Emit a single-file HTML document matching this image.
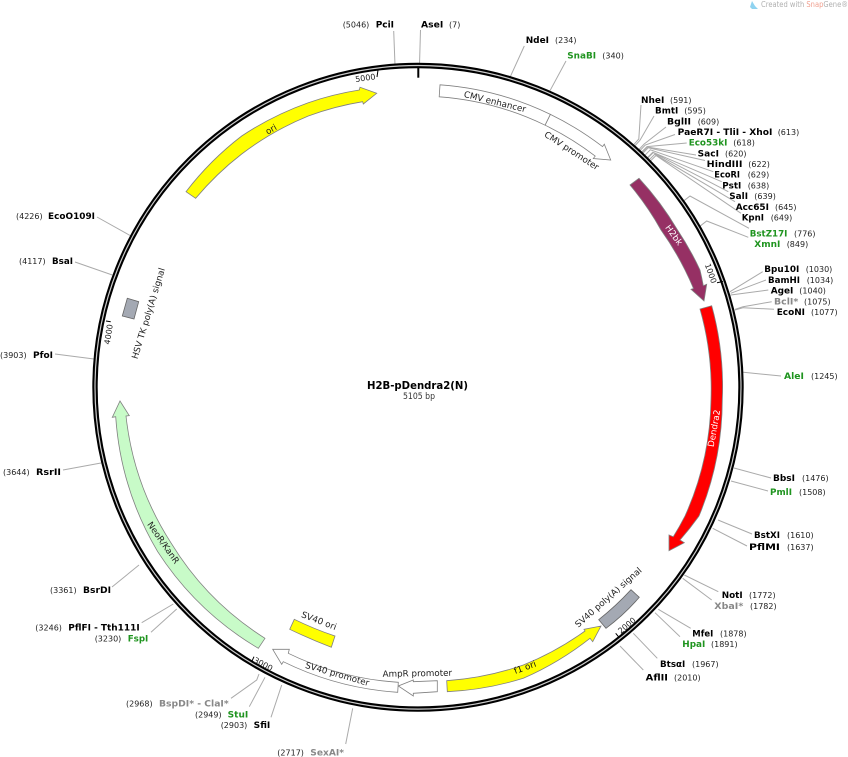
<!DOCTYPE html>
<html><head><meta charset="utf-8"><title>H2B-pDendra2(N)</title>
<style>
html,body{margin:0;padding:0;background:#fff}
svg{display:block;font-family:"DejaVu Sans","Liberation Sans",sans-serif}
.n{font-weight:700;font-size:9px;fill:#000}
.g{font-weight:700;font-size:9px;fill:#1f941f}
.h{font-weight:700;font-size:9px;fill:#888}
.c{font-size:8px;fill:#222}
.l{font-size:8.75px;fill:#222;text-anchor:middle}
.t{font-size:8px;fill:#222;text-anchor:middle}
.ln{fill:none;stroke:#aaa;stroke-width:1}
</style></head><body>
<svg width="848" height="757" viewBox="0 0 848 757" xmlns="http://www.w3.org/2000/svg">
<path d="M752 1l3 5 3 3h-6l-2-2z" fill="#8fd3f0"/>
<text x="761" y="7" font-size="7.5" fill="#b0b0b0" textLength="87" lengthAdjust="spacingAndGlyphs">Created with <tspan fill="#f0a090">Snap</tspan>Gene®</text>

<g class="ln">
<path d="M420.5 30L419.5 65M393.7 31L395 65M524.3 46L510.3 76.7M566 61L550 90.7"/>
<path d="M641 105L638.8 139L632.8 145.7M654 116L640 140.2L634 146.8M666 127L644.2 144L638 150.5M675 134.5L645.3 145L639.1 151.5M686.7 143L647 146.6L640.7 153M696 155L647.4 147L641.2 153.5M705 160.5L648.2 147.8L642 154.2M713.3 171.7L650.3 149.8L644 156.2M721.7 181.7L652.8 152.2L646.4 158.6M728.3 191.7L653.2 152.6L646.8 159M735 201.7L654.8 154.3L648.4 160.6M741 213.3L656 155.5L649.6 161.8"/>
<path d="M749 228.3L690 196L684 200.7M748.3 237.3L706.7 221L699.3 226.7"/>
<path d="M762.7 271.7L730 291.7M766 280L730.7 293.3M768.3 290L730.7 295M771.7 301.7L743 306.7L735 309.3M774 309.3L743.3 307.7L735 310"/>
<path d="M781 376L741 372M771 478L734 468M768 491L731 481M752 534L718 520M747 546L712.7 528.3"/>
<path d="M718.3 591.7L684.3 575M711.7 600L682.7 578.3M690.7 628.3L658.3 609.3M680 636.7L655 612.7M657.3 658.3L633.3 633.3M643.3 670L620 646"/>
<path d="M271 717.3L281.7 685M249.3 706.7L265 677.3M231 698.3L256.7 680L259 674M345.7 744L352.7 708.3"/>
<path d="M151 632.3L176.7 609M141.7 622.7L173.3 604M112 587L139 565M63 470L101 463M55 354L94 359M75 262L112.3 275M97 217L131 236"/>
</g>

<ellipse cx="418" cy="387.3" rx="323" ry="321.8" fill="none" stroke="#000" stroke-width="5.4"/>
<ellipse cx="418" cy="387.3" rx="323" ry="321.8" fill="none" stroke="#ccc" stroke-width="1.2"/>

<g stroke="#000" fill="none">
<path d="M418.3 68V77.7" stroke-width="2"/>
<path d="M378 70L377 77M717 282.7L723 281.5M615.7 633.3L619 637.3M254 656.7L251.7 661.7M110.7 321.7L106 321" stroke-width="1"/>
</g>
<g class="t">
<text transform="translate(365.3,77.7) rotate(-8)" y="3">5000</text>
<text transform="translate(711,273.3) rotate(70)" y="3">1000</text>
<text transform="translate(626.7,625.3) rotate(-40)" y="3">2000</text>
<text transform="translate(263.3,664) rotate(28)" y="3">3000</text>
<text transform="translate(108.3,334.3) rotate(-81)" y="3">4000</text>
</g>

<g stroke="#808080" stroke-width="0.8">
<path d="M186 191.7A300 300 0 0 1 241.7 136A300 300 0 0 1 308.3 102.7A300 300 0 0 1 359.3 90L360 87.3L376.7 93.3L363.3 104L362.7 101.7A295 295 0 0 0 308.3 116A295 295 0 0 0 241.7 154A295 295 0 0 0 195.7 198.3Z" fill="#ffff00"/>
<path d="M440 84.8A303 303 0 0 1 550.4 114.4L545.1 125.2A291 291 0 0 0 439.2 96.8Z" fill="#fff"/>
<path d="M550.4 114.4A303 303 0 0 1 602.5 146.6L604.3 144.2L610.7 160L593.3 158.5L595.2 156.1A291 291 0 0 0 545.1 125.2Z" fill="#fff"/>
<path d="M639 178.3A300 300 0 0 1 677.5 230A300 300 0 0 1 700 270A300 300 0 0 1 703.3 285.7L706.7 284.3L704 301L691 289.3L693.5 288.5A291 291 0 0 0 685 270A291 291 0 0 0 661 230A291 291 0 0 0 630 185Z" fill="#963064"/>
<path d="M711.7 305.7A304 304 0 0 1 722.3 400A304 304 0 0 1 699 516A304 304 0 0 1 680 540L684.3 542.7L669 550.7L669 535L673.3 536.7A293 293 0 0 0 685 516A293 293 0 0 0 711 400A293 293 0 0 0 700 309Z" fill="#ff0000"/>
<path d="M447.3 691.7A305 305 0 0 0 523.3 678.3A305 305 0 0 0 590 638.3L592.7 641.7L601 626L584 629.3L585 631A293 293 0 0 1 523.3 665A293 293 0 0 1 446.7 680.7Z" fill="#ffff00"/>
<path d="M631 589.7L639.3 597.3Q624 615 606 628.3L598.7 619.7Q616 606 631 589.7Z" fill="#a4a9b3" stroke="#666"/>
<path d="M413.3 681.7L437.3 680.7L437.3 691.7L413.3 693.3L413.3 696L398.3 686L413.3 680Z" fill="#fff"/>
<path d="M398.3 682.3A294 294 0 0 1 288.3 653.3L289.3 649.3L272.7 649.3L281.7 664.3L283.3 661.7A304 304 0 0 0 397.7 692.3Z" fill="#fff"/>
<path d="M294.3 619.3Q314 629 335 636L331.3 647.3Q310 639 289.7 629.3Z" fill="#ffff00"/>
<path d="M265 638.3A293 293 0 0 1 171.2 543.2A293 293 0 0 1 126 416L129.3 415.7L120 401L112.3 417.3L115.7 416.7A305 305 0 0 0 157.7 551.7A305 305 0 0 0 258.3 648.3Z" fill="#c8fbc8"/>
<path d="M127.3 298.3L138.7 301.7L134 319L122.3 316Z" fill="#a4a9b3" stroke="#666"/>
</g>

<g class="l">
<text transform="translate(271,129.3) rotate(-30)" y="3" fill="#222">ori</text>
<text transform="translate(495,101.7) rotate(14)" y="3">CMV enhancer</text>
<text transform="translate(571.7,150.7) rotate(33)" y="3">CMV promoter</text>
<text transform="translate(674,235) rotate(54)" y="3" style="fill:#fff">H2bk</text>
<text transform="translate(714,428.3) rotate(-80)" y="3" style="fill:#fff">Dendra2</text>
<text transform="translate(525,667.3) rotate(-20)" y="3" style="fill:#111">f1 ori</text>
<text transform="translate(608.3,597.3) rotate(-41.5)" y="3">SV40 poly(A) signal</text>
<text transform="translate(417.3,673.3) rotate(-1)" y="3">AmpR promoter</text>
<text transform="translate(337.3,674) rotate(16)" y="3">SV40 promoter</text>
<text transform="translate(319,620.7) rotate(21)" y="3">SV40 ori</text>
<text transform="translate(163.3,542.7) rotate(55)" y="3">NeoR/KanR</text>
<text transform="translate(148.3,313.3) rotate(-73)" y="3">HSV TK poly(A) signal</text>
</g>

<text x="367" y="389" font-size="11" font-weight="700" fill="#000" textLength="101" lengthAdjust="spacingAndGlyphs">H2B-pDendra2(N)</text>
<text x="403" y="399" font-size="8.5" fill="#333" textLength="32" lengthAdjust="spacingAndGlyphs">5105 bp</text>

<g>
<text class="n" x="421" y="27.5" textLength="22.3" lengthAdjust="spacingAndGlyphs">AseI</text><text class="c" x="449" y="27.5">(7)</text>
<text class="n" x="375.7" y="27.5" textLength="18.3" lengthAdjust="spacingAndGlyphs">PciI</text><text class="c" x="342.7" y="27.5">(5046)</text>
<text class="n" x="525.7" y="43" textLength="23.3" lengthAdjust="spacingAndGlyphs">NdeI</text><text class="c" x="555" y="43">(234)</text>
<text class="g" x="567.3" y="58.7" textLength="28.7" lengthAdjust="spacingAndGlyphs">SnaBI</text><text class="c" x="602.3" y="58.7">(340)</text>

<text class="n" x="641" y="103" textLength="23.3" lengthAdjust="spacingAndGlyphs">NheI</text><text class="c" x="670" y="103">(591)</text>
<text class="n" x="655" y="113.5" textLength="23.3" lengthAdjust="spacingAndGlyphs">BmtI</text><text class="c" x="684.3" y="113.5">(595)</text>
<text class="n" x="667" y="124.3" textLength="24" lengthAdjust="spacingAndGlyphs">BglII</text><text class="c" x="697.7" y="124.3">(609)</text>
<text class="n" x="677.7" y="134.8" textLength="94.7" lengthAdjust="spacingAndGlyphs">PaeR7I - TliI - XhoI</text><text class="c" x="777.7" y="134.8">(613)</text>
<text class="g" x="688.7" y="145.5" textLength="38.7" lengthAdjust="spacingAndGlyphs">Eco53kI</text><text class="c" x="733.3" y="145.5">(618)</text>
<text class="n" x="697.7" y="156.3" textLength="21.3" lengthAdjust="spacingAndGlyphs">SacI</text><text class="c" x="725" y="156.3">(620)</text>
<text class="n" x="706.7" y="167" textLength="35.7" lengthAdjust="spacingAndGlyphs">HindIII</text><text class="c" x="748.3" y="167">(622)</text>
<text class="n" x="714.3" y="177.7" textLength="25.7" lengthAdjust="spacingAndGlyphs">EcoRI</text><text class="c" x="747.7" y="177.7">(629)</text>
<text class="n" x="722.3" y="188.4" textLength="19" lengthAdjust="spacingAndGlyphs">PstI</text><text class="c" x="747.7" y="188.4">(638)</text>
<text class="n" x="729.3" y="199.2" textLength="18.7" lengthAdjust="spacingAndGlyphs">SalI</text><text class="c" x="754.3" y="199.2">(639)</text>
<text class="n" x="735.7" y="210" textLength="33.3" lengthAdjust="spacingAndGlyphs">Acc65I</text><text class="c" x="775" y="210">(645)</text>
<text class="n" x="741.7" y="220.5" textLength="22.3" lengthAdjust="spacingAndGlyphs">KpnI</text><text class="c" x="770.7" y="220.5">(649)</text>
<text class="g" x="749.7" y="236.5" textLength="37.7" lengthAdjust="spacingAndGlyphs">BstZ17I</text><text class="c" x="794" y="236.5">(776)</text>
<text class="g" x="754.3" y="247.2" textLength="26" lengthAdjust="spacingAndGlyphs">XmnI</text><text class="c" x="786.7" y="247.2">(849)</text>
<text class="n" x="764.3" y="272.2" textLength="35" lengthAdjust="spacingAndGlyphs">Bpu10I</text><text class="c" x="805.7" y="272.2">(1030)</text>
<text class="n" x="768" y="282.8" textLength="32" lengthAdjust="spacingAndGlyphs">BamHI</text><text class="c" x="806.7" y="282.8">(1034)</text>
<text class="n" x="770.7" y="293.5" textLength="22.7" lengthAdjust="spacingAndGlyphs">AgeI</text><text class="c" x="799.3" y="293.5">(1040)</text>
<text class="h" x="774" y="304.5" textLength="24.3" lengthAdjust="spacingAndGlyphs">BclI*</text><text class="c" x="804" y="304.5">(1075)</text>
<text class="n" x="776.7" y="315" textLength="28.3" lengthAdjust="spacingAndGlyphs">EcoNI</text><text class="c" x="811" y="315">(1077)</text>
<text class="g" x="784" y="379" textLength="20" lengthAdjust="spacingAndGlyphs">AleI</text><text class="c" x="811" y="379">(1245)</text>
<text class="n" x="773" y="481" textLength="22" lengthAdjust="spacingAndGlyphs">BbsI</text><text class="c" x="802" y="481">(1476)</text>
<text class="g" x="770" y="495" textLength="22" lengthAdjust="spacingAndGlyphs">PmlI</text><text class="c" x="799" y="495">(1508)</text>
<text class="n" x="754" y="538" textLength="26" lengthAdjust="spacingAndGlyphs">BstXI</text><text class="c" x="787" y="538">(1610)</text>
<text class="n" x="749" y="550" textLength="31" lengthAdjust="spacingAndGlyphs">PflMI</text><text class="c" x="787" y="550">(1637)</text>
<text class="n" x="721.7" y="598" textLength="21" lengthAdjust="spacingAndGlyphs">NotI</text><text class="c" x="749" y="598">(1772)</text>
<text class="h" x="714.3" y="609" textLength="29" lengthAdjust="spacingAndGlyphs">XbaI*</text><text class="c" x="750" y="609">(1782)</text>
<text class="n" x="692.3" y="636.3" textLength="21" lengthAdjust="spacingAndGlyphs">MfeI</text><text class="c" x="720" y="636.3">(1878)</text>
<text class="g" x="682.3" y="647" textLength="23" lengthAdjust="spacingAndGlyphs">HpaI</text><text class="c" x="711" y="647">(1891)</text>
<text class="n" x="660" y="667" textLength="25.3" lengthAdjust="spacingAndGlyphs">BtsαI</text><text class="c" x="692" y="667">(1967)</text>
<text class="n" x="645.7" y="680.3" textLength="22.3" lengthAdjust="spacingAndGlyphs">AflII</text><text class="c" x="674" y="680.3">(2010)</text>

<text class="n" x="253.7" y="728" textLength="16.6" lengthAdjust="spacingAndGlyphs">SfiI</text><text class="c" x="220.7" y="728">(2903)</text>
<text class="g" x="227.7" y="717.3" textLength="20.6" lengthAdjust="spacingAndGlyphs">StuI</text><text class="c" x="195" y="717.3">(2949)</text>
<text class="h" x="159" y="706.7" textLength="69.7" lengthAdjust="spacingAndGlyphs">BspDI* - ClaI*</text><text class="c" x="126" y="706.7">(2968)</text>
<text class="h" x="310.3" y="755.3" textLength="33.7" lengthAdjust="spacingAndGlyphs">SexAI*</text><text class="c" x="277.3" y="755.3">(2717)</text>
<text class="g" x="127.7" y="641.7" textLength="20.6" lengthAdjust="spacingAndGlyphs">FspI</text><text class="c" x="94.7" y="641.7">(3230)</text>
<text class="n" x="68.3" y="630.7" textLength="71.4" lengthAdjust="spacingAndGlyphs">PflFI - Tth111I</text><text class="c" x="35.3" y="630.7">(3246)</text>
<text class="n" x="83" y="593" textLength="28" lengthAdjust="spacingAndGlyphs">BsrDI</text><text class="c" x="50" y="593">(3361)</text>
<text class="n" x="36" y="475" textLength="25" lengthAdjust="spacingAndGlyphs">RsrII</text><text class="c" x="3" y="475">(3644)</text>
<text class="n" x="33" y="358" textLength="20" lengthAdjust="spacingAndGlyphs">PfoI</text><text class="c" x="0" y="358">(3903)</text>
<text class="n" x="52" y="264" textLength="21" lengthAdjust="spacingAndGlyphs">BsaI</text><text class="c" x="19" y="264">(4117)</text>
<text class="n" x="48" y="219" textLength="47" lengthAdjust="spacingAndGlyphs">EcoO109I</text><text class="c" x="16" y="219">(4226)</text>
</g>
</svg>
</body></html>
